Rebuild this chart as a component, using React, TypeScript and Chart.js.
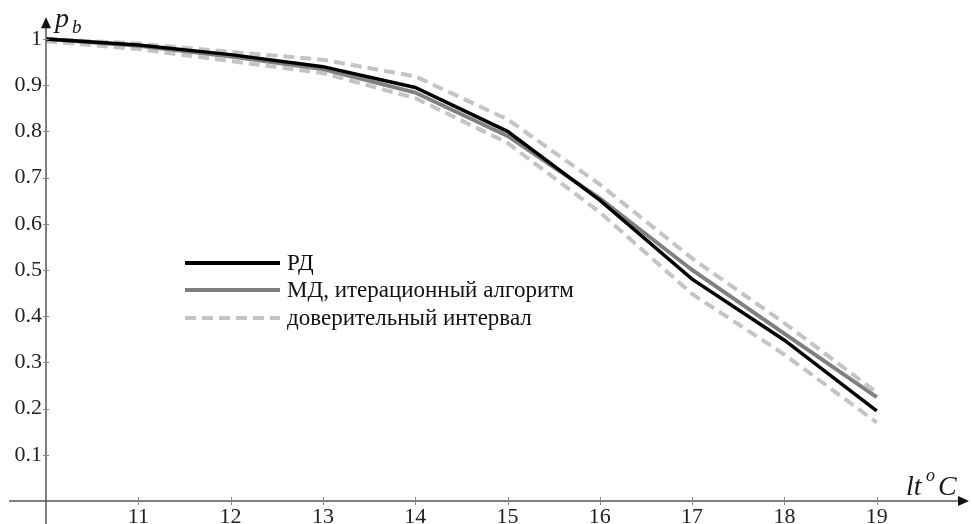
import React, { useEffect, useRef } from "react";
import { Chart, registerables } from "chart.js";

Chart.register(...registerables);

const temps = [10, 11, 12, 13, 14, 15, 16, 17, 18, 19];
const rdValues = [1.0, 0.987, 0.966, 0.94, 0.895, 0.8, 0.651, 0.48, 0.348, 0.195];
const mdValues = [1.0, 0.985, 0.962, 0.935, 0.884, 0.79, 0.655, 0.5, 0.362, 0.225];
const upperValues = [1.0, 0.99, 0.972, 0.955, 0.919, 0.826, 0.685, 0.525, 0.385, 0.235];
const lowerValues = [0.995, 0.978, 0.952, 0.926, 0.872, 0.775, 0.625, 0.448, 0.317, 0.17];

const xTicks = [11, 12, 13, 14, 15, 16, 17, 18, 19];
const yTicks = [0.1, 0.2, 0.3, 0.4, 0.5, 0.6, 0.7, 0.8, 0.9, 1];
const yTickLabels = ["0.1", "0.2", "0.3", "0.4", "0.5", "0.6", "0.7", "0.8", "0.9", "1"];

const legendLabels = ["РД", "МД, итерационный алгоритм", "доверительный интервал"];

const BLACK = "#000000";
const GRAY = "#808080";
const LIGHT = "#c4c4c4";
const AXIS = "#555555";
const SERIF = "'Liberation Serif', 'Times New Roman', serif";

const axesPlugin = {
  id: "axesPlugin",
  afterDraw(chart: any) {
    const { ctx, chartArea, scales } = chart;
    const xs = scales.x;
    const ys = scales.y;
    const x0 = xs.getPixelForValue(10);
    const y0 = ys.getPixelForValue(0);
    ctx.save();
    ctx.strokeStyle = AXIS;
    ctx.fillStyle = "#111";
    ctx.lineWidth = 1.5;
    ctx.beginPath();
    ctx.moveTo(9, y0);
    ctx.lineTo(chartArea.right - 8, y0);
    ctx.stroke();
    ctx.beginPath();
    ctx.moveTo(x0, 524);
    ctx.lineTo(x0, chartArea.top + 8);
    ctx.stroke();
    ctx.fillStyle = "#111";
    ctx.beginPath();
    ctx.moveTo(chartArea.right, y0);
    ctx.lineTo(chartArea.right - 11, y0 - 5);
    ctx.lineTo(chartArea.right - 11, y0 + 5);
    ctx.closePath();
    ctx.fill();
    ctx.beginPath();
    ctx.moveTo(x0, chartArea.top);
    ctx.lineTo(x0 - 5, chartArea.top + 11);
    ctx.lineTo(x0 + 5, chartArea.top + 11);
    ctx.closePath();
    ctx.fill();
    ctx.strokeStyle = "#888";
    ctx.lineWidth = 1;
    for (const t of xTicks) {
      const px = Math.round(xs.getPixelForValue(t)) + 0.5;
      ctx.beginPath();
      ctx.moveTo(px, y0 - 4);
      ctx.lineTo(px, y0 + 4);
      ctx.stroke();
    }
    for (const t of yTicks) {
      const py = Math.round(ys.getPixelForValue(t)) + 0.5;
      ctx.beginPath();
      ctx.moveTo(x0 - 3, py);
      ctx.lineTo(x0 + 3, py);
      ctx.stroke();
    }
    ctx.fillStyle = "#1a1a1a";
    ctx.textBaseline = "alphabetic";
    ctx.textAlign = "left";
    ctx.font = `italic 28px ${SERIF}`;
    ctx.fillText("p", x0 + 9, 27);
    ctx.font = `italic 19px ${SERIF}`;
    ctx.fillText("b", x0 + 26, 33);
    ctx.font = `italic 28px ${SERIF}`;
    ctx.fillText("lt", 906, 495);
    ctx.font = `italic 18px ${SERIF}`;
    ctx.fillText("o", 926, 481);
    ctx.font = `italic 28px ${SERIF}`;
    ctx.fillText("C", 938, 495);

    const lx1 = 185;
    const lx2 = 280;
    const rows = [263, 290, 318];
    const styles = [
      { color: BLACK, width: 4, dash: [] as number[] },
      { color: GRAY, width: 4, dash: [] as number[] },
      { color: LIGHT, width: 4, dash: [11, 6] },
    ];
    ctx.font = `23px ${SERIF}`;
    ctx.textBaseline = "middle";
    rows.forEach((ry, i) => {
      const s = styles[i];
      ctx.strokeStyle = s.color;
      ctx.lineWidth = s.width;
      ctx.setLineDash(s.dash);
      ctx.beginPath();
      ctx.moveTo(lx1, ry);
      ctx.lineTo(lx2, ry);
      ctx.stroke();
      ctx.setLineDash([]);
      ctx.fillStyle = "#111";
      ctx.fillText(legendLabels[i], 287, ry + 1);
    });
    ctx.restore();
  },
};

export default function App() {
  const ref = useRef<HTMLCanvasElement | null>(null);
  useEffect(() => {
    if (!ref.current) return;
    const mk = (vals: number[]) => temps.map((t, i) => ({ x: t, y: vals[i] }));
    const chart = new Chart(ref.current, {
      type: "line",
      data: {
        datasets: [
          { label: legendLabels[0], data: mk(rdValues), borderColor: BLACK, borderWidth: 3.5, pointRadius: 0, order: 0, tension: 0 },
          { label: legendLabels[1], data: mk(mdValues), borderColor: GRAY, borderWidth: 4, pointRadius: 0, order: 1, tension: 0 },
          { label: legendLabels[2], data: mk(upperValues), borderColor: LIGHT, borderWidth: 4, borderDash: [11, 6], pointRadius: 0, order: 2, tension: 0 },
          { label: legendLabels[2] + " ", data: mk(lowerValues), borderColor: LIGHT, borderWidth: 4, borderDash: [11, 6], pointRadius: 0, order: 2, tension: 0 },
        ],
      },
      options: {
        animation: false,
        responsive: false,
        devicePixelRatio: 1,
        layout: { padding: { top: 12, right: 3, left: 0, bottom: 0 } },
        plugins: { legend: { display: false }, tooltip: { enabled: false } },
        scales: {
          x: {
            type: "linear",
            min: 10,
            max: 20,
            grid: { display: false, drawTicks: false },
            border: { display: false },
            afterBuildTicks: (s: any) => {
              s.ticks = xTicks.map((v) => ({ value: v }));
            },
            afterFit: (s: any) => {
              s.height = 23;
            },
            ticks: {
              padding: 3,
              autoSkip: false,
              maxRotation: 0,
              color: "#222",
              font: { family: SERIF, size: 22 },
              callback: (v: any) => String(v),
            },
          },
          y: {
            type: "linear",
            min: 0,
            max: 1.047,
            grid: { display: false, drawTicks: false },
            border: { display: false },
            afterBuildTicks: (s: any) => {
              s.ticks = yTicks.map((v) => ({ value: v }));
            },
            afterFit: (s: any) => {
              s.width = 46;
            },
            ticks: {
              padding: 4,
              autoSkip: false,
              color: "#222",
              font: { family: SERIF, size: 22 },
              callback: (v: any) => {
                const i = yTicks.findIndex((t) => Math.abs(t - v) < 1e-6);
                return i >= 0 ? yTickLabels[i] : "";
              },
            },
          },
        },
      },
      plugins: [axesPlugin],
    });
    return () => chart.destroy();
  }, []);
  return (
    <div style={{ position: "absolute", left: 0, top: 0, width: 972, height: 524, background: "#fff" }}>
      <canvas ref={ref} width={972} height={524} />
    </div>
  );
}
